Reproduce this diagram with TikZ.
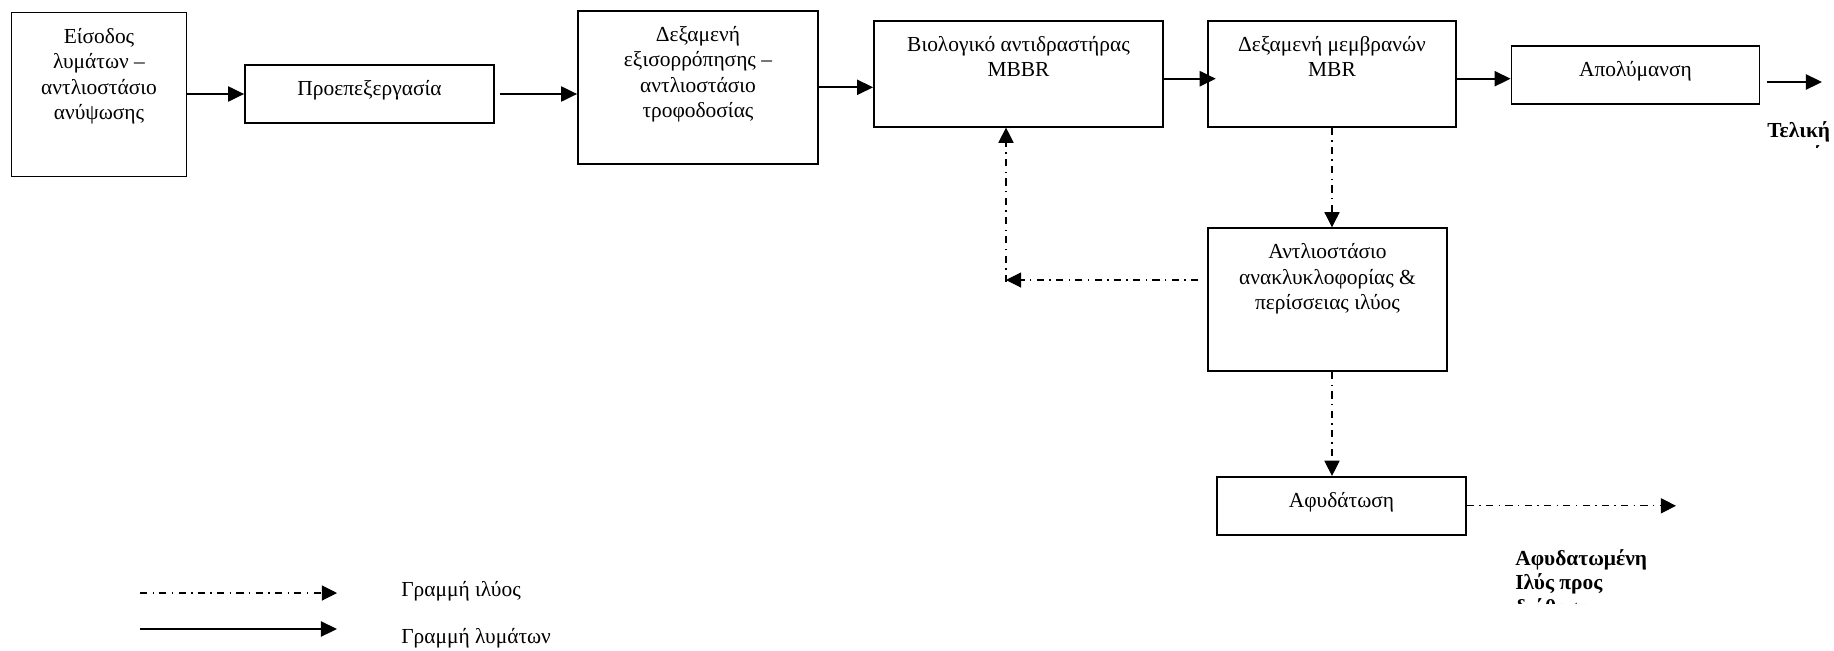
\documentclass[tikz,border=0pt]{standalone}
\usepackage{fontspec}
\setmainfont{Liberation Serif}
\usepackage{tikz}
\usetikzlibrary{positioning,calc,arrows.meta}
\newlength\pxu
\setlength\pxu{0.56pt}
\tikzstyle{box} = [rectangle, draw=black, line width=1pt, inner sep=0pt]
\tikzstyle{boxtext} = [anchor=north, align=center, inner sep=0pt, font=\fontsize{12}{14.2}\selectfont]
\tikzstyle{outlabel} = [anchor=north west, align=left, inner sep=0pt, font=\fontsize{12}{13.8}\selectfont\bfseries]
\tikzstyle{legtext} = [anchor=west, inner sep=0pt, font=\fontsize{12}{13.8}\selectfont]
\tikzstyle{flow} = [line width=1pt, -{Triangle[length=9pt,width=8.5pt]}]
\tikzstyle{sludge} = [line width=0.6pt, dash pattern=on 4pt off 3pt on 0.8pt off 3pt, -{Triangle[length=8.5pt,width=8.5pt]}]

\begin{document}
\begin{tikzpicture}[x=\pxu, y=-\pxu]
    \useasboundingbox (0,0) rectangle (1834,650);
    \node (Eisodos) [box, minimum width=175\pxu, minimum height=164\pxu] at (99,94.6) {};
    \node (Proep) [box, minimum width=249\pxu, minimum height=58\pxu] at (369.5,94) {};
    \node (Dexam) [box, minimum width=240\pxu, minimum height=153\pxu] at (698,87.3) {};
    \node (Bio) [box, minimum width=289\pxu, minimum height=106\pxu] at (1018.5,73.7) {};
    \node (Membr) [box, minimum width=248.5\pxu, minimum height=106\pxu] at (1332,73.7) {};
    \node (Apol) [box, minimum width=248\pxu, minimum height=58\pxu] at (1635.5,75) {};
    \node (Anakykl) [box, minimum width=239\pxu, minimum height=143\pxu] at (1327.5,299.7) {};
    \node (Afyd) [box, minimum width=249\pxu, minimum height=58\pxu] at (1341.5,505.8) {};
    \node (EisodosText) [boxtext] at ([yshift=-13.5\pxu]Eisodos.north) {\strut Είσοδος\\λυμάτων –\\αντλιοστάσιο\\ανύψωσης};
    \node (ProepText) [boxtext] at ([yshift=-13.5\pxu]Proep.north) {\strut Προεπεξεργασία};
    \node (DexamText) [boxtext] at ([yshift=-13.5\pxu]Dexam.north) {\strut Δεξαμενή\\εξισορρόπησης –\\αντλιοστάσιο\\τροφοδοσίας};
    \node (BioText) [boxtext] at ([yshift=-13.5\pxu]Bio.north) {\strut Βιολογικό αντιδραστήρας\\MBBR};
    \node (MembrText) [boxtext] at ([yshift=-13.5\pxu]Membr.north) {\strut Δεξαμενή μεμβρανών\\MBR};
    \node (ApolText) [boxtext] at ([yshift=-13.5\pxu]Apol.north) {\strut Απολύμανση};
    \node (AnakyklText) [boxtext] at ([yshift=-13.5\pxu]Anakykl.north) {\strut Αντλιοστάσιο\\ανακλυκλοφορίας \&\\περίσσειας ιλύος};
    \node (AfydText) [boxtext] at ([yshift=-13.5\pxu]Afyd.north) {\strut Αφυδάτωση};
    \begin{scope}
        \clip (1700,100) rectangle (1834,147);
        \node (Teliki) [outlabel] at (1767,119.6) {\strut Τελική\\εκροή};
    \end{scope}
    \begin{scope}
        \clip (1450,540) rectangle (1834,603);
        \node (AfydLabel) [outlabel] at (1515,547.6) {\strut Αφυδατωμένη\\Ιλύς προς\\διάθεση};
    \end{scope}
    \draw[flow] (Eisodos.east |- Proep) -- (Proep.west);
    \draw[flow, shorten <=2.8pt] (Proep.east) -- (Proep.east -| Dexam.west);
    \draw[flow] (Dexam.east) -- (Dexam.east -| Bio.west);
    \draw[flow, shorten >=-5pt] ($(Bio.east)+(0,5)$) coordinate (BioOut) -- (BioOut -| Membr.west);
    \draw[flow] ($(Membr.east)+(0,5)$) coordinate (MembrOut) -- (MembrOut -| Apol.west);
    \coordinate (TelikiOut) at (1822,82);
    \draw[flow, shorten <=3.5pt] (Apol.east |- TelikiOut) -- (TelikiOut);
    \draw[sludge] (Membr.south) -- (Membr.south |- Anakykl.north);
    \draw[sludge] (Membr.south |- Anakykl.south) -- (Membr.south |- Afyd.north);
    \coordinate (Return) at (1006,280);
    \draw[sludge, shorten <=5pt] (Anakykl.west |- Return) -- (Return);
    \draw[sludge] ($(Return)+(0,2)$) -- (Return |- Bio.south);
    \coordinate (AfydOut) at (1676,506);
    \draw[sludge] (Afyd.east) -- (Afyd.east -| AfydOut);
    \coordinate (LegSludgeA) at (140,593);
    \coordinate (LegSludgeB) at (337,593);
    \coordinate (LegFlowA) at (140,629);
    \coordinate (LegFlowB) at (337,629);
    \draw[sludge] (LegSludgeA) -- (LegSludgeB);
    \draw[flow] (LegFlowA) -- (LegFlowB);
    \node (LegSludgeText) [legtext] at (401,591) {Γραμμή ιλύος};
    \node (LegFlowText) [legtext] at (401,638) {Γραμμή λυμάτων};
\end{tikzpicture}
\end{document}
